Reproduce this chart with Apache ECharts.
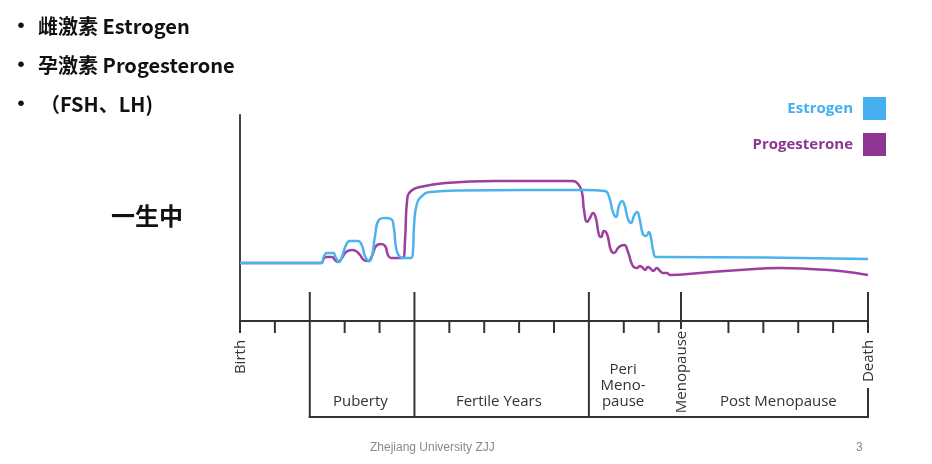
<!DOCTYPE html>
<html>
<head>
<meta charset="utf-8">
<title>一生中</title>
<script src="https://cdn.jsdelivr.net/npm/echarts@6/dist/echarts.min.js"></script>
<style>
html, body { margin: 0; padding: 0; background: #fff; }
#ct { width: 932px; height: 464px; }
</style>
</head>
<body>
<div id="ct"></div>
<script>
// 时间轴（一格 = 10）
const minorTicks = [0, 10, 30, 40, 60, 70, 80, 90, 110, 120, 140, 150, 160, 170];
const stageBounds = [20, 50, 100, 126.4, 180];
const stageNames = ['Puberty', 'Fertile Years', 'Peri\nMeno-\npause', 'Post Menopause'];
const stageCenters = [34.5, 74.2, 109.8, 154.3];
const eventNames = ['Birth', 'Menopause', 'Death'];
const eventPos = [0, 126.4, 180];

// 激素水平（相对值）
const estrogen = [
  [0, 58], [23.2, 58], [24.1, 65], [24.9, 68], [26.7, 68], [27.5, 63], [28.4, 59], [29.2, 64],
  [30.4, 76], [31.5, 80], [33.8, 80], [35.0, 75], [35.8, 65], [37.0, 60], [37.8, 64], [38.7, 85],
  [39.8, 101], [41.6, 103], [43.3, 102], [44.1, 93], [44.7, 74], [45.6, 65], [47.0, 63], [49.0, 63],
  [49.6, 71], [49.9, 96], [50.7, 117], [52.2, 125], [54.5, 129], [63.1, 130.5], [98.9, 131],
  [104.6, 130], [105.8, 124], [106.9, 109], [107.8, 104], [108.6, 115], [109.5, 120], [110.3, 115],
  [111.2, 102], [112.1, 98], [112.9, 105], [113.8, 109], [114.6, 101], [115.5, 87], [116.4, 85],
  [117.2, 89], [117.8, 83], [118.4, 71], [119.2, 64], [121.0, 64], [180, 62]
];
const progesterone = [
  [0, 58], [23.2, 58], [24.1, 63], [24.9, 64], [26.4, 64], [27.2, 61], [28.1, 59], [29.2, 63],
  [30.4, 69], [32.1, 71], [33.2, 70], [34.4, 66], [35.5, 61], [36.7, 60], [37.8, 65], [39.0, 75],
  [40.4, 77], [41.6, 75], [42.4, 66], [43.3, 63], [46.7, 63], [47.3, 81], [47.9, 121], [49.0, 130],
  [51.6, 134], [58.8, 138], [73.1, 140], [95.2, 140], [96.9, 137], [98.0, 129], [98.6, 111],
  [99.5, 99], [100.3, 103], [101.2, 108], [102.0, 103], [102.9, 86], [103.5, 84], [104.3, 90],
  [105.2, 87], [106.3, 71], [107.2, 68], [108.6, 74], [110.1, 76], [111.2, 69], [112.6, 55],
  [113.8, 53], [114.6, 55], [115.5, 53], [116.1, 51], [116.9, 54], [117.8, 52], [118.4, 50],
  [119.5, 53], [120.4, 50], [121.2, 48], [122.4, 48], [123.2, 46], [131.8, 48], [143.3, 51],
  [154.8, 53], [163.4, 52], [172.0, 50], [180, 46]
];

const blue = '#4db3ec';
const purple = '#9c3f9f';
const axisColor = '#333';
const font = '15px "Open Sans"';

function renderTimeline(params, api) {
  const y0 = api.coord([0, 0])[1];
  const seg = (x1, y1, x2, y2) => ({
    type: 'line',
    shape: { x1, y1, x2, y2 },
    style: { stroke: axisColor, lineWidth: 2 }
  });
  const children = [];
  minorTicks.forEach(v => {
    const x = api.coord([v, 0])[0];
    children.push(seg(x, y0, x, y0 + 12));
  });
  stageBounds.forEach(v => {
    const x = api.coord([v, 0])[0];
    const name = eventNames[eventPos.indexOf(v)];
    if (name === 'Menopause') {
      children.push(seg(x, y0 - 29, x, y0 + 8));
    } else if (name === 'Death') {
      children.push(seg(x, y0 - 29, x, y0 + 12));
      children.push(seg(x, y0 + 67, x, y0 + 97));
    } else {
      children.push(seg(x, y0 - 29, x, y0 + 97));
    }
  });
  const xa = api.coord([stageBounds[0], 0])[0];
  const xb = api.coord([stageBounds[stageBounds.length - 1], 0])[0];
  children.push(seg(xa - 1, y0 + 96, xb + 1, y0 + 96));

  stageNames.forEach((n, i) => {
    const x = api.coord([stageCenters[i], 0])[0];
    const lines = n.split('\n').length;
    children.push({
      type: 'text',
      x: x,
      y: y0 + 81 - (lines - 1) * 8,
      style: {
        text: n, font: font, fill: axisColor, lineHeight: 16,
        align: 'center', verticalAlign: 'middle'
      }
    });
  });
  const eventOffset = { Birth: 36, Menopause: 51, Death: 40 };
  eventNames.forEach((n, i) => {
    const x = api.coord([eventPos[i], 0])[0];
    children.push({
      type: 'text',
      x: x + 1,
      y: y0 + eventOffset[n],
      rotation: Math.PI / 2,
      style: { text: n, font: font, fill: axisColor, align: 'center', verticalAlign: 'middle' }
    });
  });
  return { type: 'group', children: children };
}

const chart = echarts.init(document.getElementById('ct'));
const option = {
  animation: false,
  backgroundColor: '#fff',
  grid: { left: 240, right: 64, top: 115, bottom: 143 },
  legend: {
    orient: 'vertical',
    right: 41,
    top: 92,
    align: 'right',
    icon: 'rect',
    itemWidth: 23,
    itemHeight: 23,
    itemGap: 13,
    textStyle: { fontFamily: 'Open Sans', fontWeight: 'bold', fontSize: 15, padding: [0, 5, 0, 0] },
    data: [
      { name: 'Estrogen', itemStyle: { color: '#45aff0' }, textStyle: { color: '#45aff0' } },
      { name: 'Progesterone', itemStyle: { color: '#8e3592' }, textStyle: { color: '#8e3592' } }
    ]
  },
  xAxis: {
    type: 'value', min: 0, max: 180,
    axisLine: { show: true, lineStyle: { color: axisColor, width: 2 } },
    axisTick: { show: false }, axisLabel: { show: false }, splitLine: { show: false }
  },
  yAxis: {
    type: 'value', min: 0, max: 206,
    axisLine: { show: true, lineStyle: { color: '#444', width: 2 } },
    axisTick: { show: false }, axisLabel: { show: false }, splitLine: { show: false }
  },
  graphic: [
    { type: 'text', left: 10, top: 14, style: { text: '•', font: 'bold 22px "Noto Sans CJK SC"', fill: '#111' } },
    { type: 'text', left: 38, top: 16, style: { text: '雌激素 Estrogen', font: 'bold 20px "Noto Sans CJK SC"', fill: '#111' } },
    { type: 'text', left: 10, top: 53, style: { text: '•', font: 'bold 22px "Noto Sans CJK SC"', fill: '#111' } },
    { type: 'text', left: 38, top: 55, style: { text: '孕激素 Progesterone', font: 'bold 20px "Noto Sans CJK SC"', fill: '#111' } },
    { type: 'text', left: 10, top: 92, style: { text: '•', font: 'bold 22px "Noto Sans CJK SC"', fill: '#111' } },
    { type: 'text', left: 40, top: 94, style: { text: '（FSH、LH)', font: 'bold 20px "Noto Sans CJK SC"', fill: '#111' } },
    { type: 'text', left: 111, top: 204, style: { text: '一生中', font: 'bold 24px "Noto Sans CJK SC"', fill: '#111' } },
    { type: 'text', left: 370, top: 442, style: { text: 'Zhejiang University ZJJ', font: '12px "Liberation Sans"', fill: '#8a8a8a' } },
    { type: 'text', left: 856, top: 442, style: { text: '3', font: '12px "Liberation Sans"', fill: '#8a8a8a' } }
  ],
  series: [
    {
      name: 'Progesterone', type: 'line', data: progesterone,
      smooth: 0.5, symbol: 'none', z: 2,
      lineStyle: { color: purple, width: 2.5 }, itemStyle: { color: purple }
    },
    {
      name: 'Estrogen', type: 'line', data: estrogen,
      smooth: 0.5, symbol: 'none', z: 3,
      lineStyle: { color: blue, width: 2.5 }, itemStyle: { color: blue }
    },
    {
      name: 'timeline', type: 'custom', data: [[0, 0]], clip: false, silent: true,
      renderItem: renderTimeline
    }
  ]
};
chart.setOption(option);
</script>
</body>
</html>
